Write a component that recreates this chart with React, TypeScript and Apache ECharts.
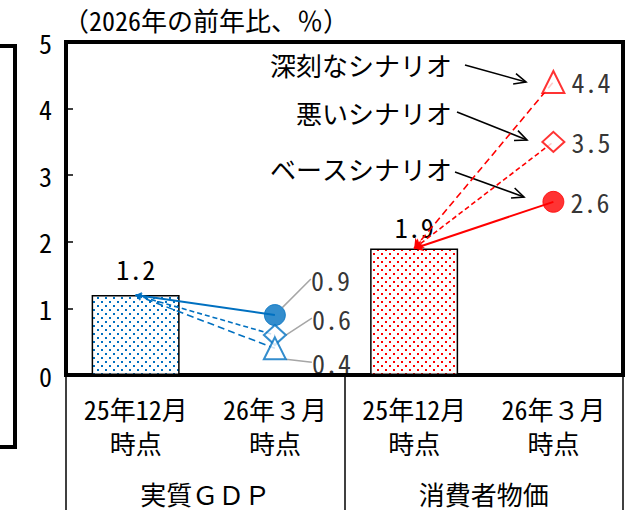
import React, { useEffect, useRef } from "react";
import * as echarts from "echarts";

// Axis categories and group headings
const categories = ["25年12月\n時点", "26年３月\n時点", "25年12月\n時点", "26年３月\n時点"];
const groups = ["実質ＧＤＰ", "消費者物価"];

// Scenario names (base / bad / severe)
const scenarios = ["ベースシナリオ", "悪いシナリオ", "深刻なシナリオ"];

// 2026 year-on-year forecasts, %
const gdpDec25 = 1.2;
const cpiDec25 = 1.9;
const gdpMar26 = [0.9, 0.6, 0.4];
const cpiMar26 = [2.6, 3.5, 4.4];

const FONT = "'Noto Sans Mono CJK JP', 'Noto Sans CJK JP', sans-serif";
const BLUE = "#0070C0";
const RED = "#FF0000";

// marker look per scenario
const markerSymbols = ["circle", "diamond", "triangle"];
const markerSizes: (number | number[])[] = [21, [22, 20], [22, 22]];
const lineTypes: (string | number[])[] = ["solid", [5, 3], [7, 4]];
// leader-line offsets for the GDP value labels
const gdpLabelShift = [
  [20, -36],
  [20, -17],
  [20, 14],
];

function dotPattern(color: string) {
  const c = document.createElement("canvas");
  c.width = 8;
  c.height = 8;
  const ctx = c.getContext("2d")!;
  ctx.fillStyle = "#fff";
  ctx.fillRect(0, 0, 8, 8);
  ctx.fillStyle = color;
  ctx.fillRect(1, 1, 2, 2);
  ctx.fillRect(5, 5, 2, 2);
  return { image: c, repeat: "repeat" } as any;
}

function arrow(x1: number, y1: number, x2: number, y2: number) {
  const ang = Math.atan2(y2 - y1, x2 - x1);
  const L = 13;
  const a = 0.42;
  const p1 = [x2 - L * Math.cos(ang - a), y2 - L * Math.sin(ang - a)];
  const p2 = [x2 - L * Math.cos(ang + a), y2 - L * Math.sin(ang + a)];
  return [
    { type: "line", shape: { x1, y1, x2, y2 }, style: { stroke: "#000", lineWidth: 1.6 } },
    {
      type: "polyline",
      shape: { points: [p1, [x2, y2], p2] },
      style: { stroke: "#000", lineWidth: 1.6, fill: null },
    },
  ];
}

function scenarioLines(
  fromX: number,
  fromY: number,
  toX: number,
  values: number[],
  color: string
) {
  return values.map((v, i) => ({
    type: "lines",
    coordinateSystem: "cartesian2d",
    xAxisIndex: 0,
    yAxisIndex: 0,
    symbol: ["arrow", "none"],
    symbolSize: color === RED ? 9 : 6,
    silent: true,
    lineStyle: { color, width: i === 0 ? 2 : 1.6, type: lineTypes[i], opacity: 1, curveness: 0 },
    data: [{ coords: [[fromX, fromY], [toX, v]] }],
    z: 3,
  }));
}

export default function App() {
  const ref = useRef<HTMLDivElement>(null);

  useEffect(() => {
    if (!ref.current) return;
    const chart = echarts.init(ref.current, null, { renderer: "svg" });

    const blueDots = dotPattern(BLUE);
    const redDots = dotPattern(RED);

    const markerItems = (values: number[], x: number, color: string) =>
      values.map((v, i) => ({
        value: [x, v],
        symbol: markerSymbols[i],
        symbolSize: markerSizes[i],
        itemStyle:
          i === 0
            ? { color, borderColor: color, borderWidth: 1 }
            : { color: "#fff", borderColor: color, borderWidth: 2 },
      }));

    const textStyle = { fontFamily: FONT, color: "#000", fontSize: 26 };

    const scenarioTexts = [
      { name: scenarios[2], y: 64, a: [465, 65, 526, 82] },
      { name: scenarios[1], y: 112, a: [457, 112, 527, 140] },
      { name: scenarios[0], y: 168, a: [455, 172, 524, 197] },
    ];

    const graphics: any[] = [
      // edge of the neighbouring panel
      {
        type: "polyline",
        shape: { points: [[0, 46], [15, 46], [15, 447], [0, 447]] },
        style: { stroke: "#000", lineWidth: 4, fill: null },
      },
    ];
    scenarioTexts.forEach((s) => {
      graphics.push({
        type: "text",
        x: 452,
        y: s.y,
        style: {
          text: s.name,
          align: "right",
          verticalAlign: "middle",
          font: `26px ${FONT}`,
          fill: "#000",
        },
      });
      graphics.push(...arrow(s.a[0], s.a[1], s.a[2], s.a[3]));
    });

    chart.setOption({
      animation: false,
      backgroundColor: "#fff",
      textStyle: { fontFamily: FONT },
      title: {
        text: "（2026年の前年比、％）",
        left: 58,
        top: 1,
        textStyle: { ...textStyle, fontWeight: "normal", fontSize: 26 },
      },
      grid: {
        left: 66,
        right: 3,
        top: 42,
        bottom: 135,
        show: true,
        borderColor: "#000",
        borderWidth: 4,
        backgroundColor: "transparent",
      },
      xAxis: [
        {
          type: "category",
          data: categories,
          axisLine: { lineStyle: { color: "#000", width: 4 } },
          axisTick: { show: false },
          axisLabel: { ...textStyle, lineHeight: 34, margin: 16, interval: 0 },
          splitLine: { show: false },
        },
        {
          type: "category",
          data: groups,
          position: "bottom",
          axisLine: { show: false },
          axisTick: { show: true, length: 135, lineStyle: { color: "#000", width: 1.5 } },
          axisLabel: { ...textStyle, margin: 105, interval: 0 },
          splitLine: { show: false },
        },
      ],
      yAxis: {
        type: "value",
        min: 0,
        max: 5,
        interval: 1,
        axisLine: { show: true, lineStyle: { color: "#000", width: 4 } },
        axisTick: { show: true, inside: true, length: 7, lineStyle: { color: "#000", width: 1.5 } },
        axisLabel: { ...textStyle, margin: 14 },
        splitLine: { show: false },
      },
      graphic: graphics,
      series: [
        {
          type: "bar",
          xAxisIndex: 0,
          barWidth: 88,
          data: [
            { value: gdpDec25, itemStyle: { color: blueDots }, label: { distance: 14 } },
            "-",
            { value: cpiDec25, itemStyle: { color: redDots }, label: { distance: 9 } },
            "-",
          ],
          itemStyle: { borderColor: "#000", borderWidth: 1.5 },
          label: {
            show: true,
            position: "top",
            ...textStyle,
            formatter: (p: any) => Number(p.value).toFixed(1),
          },
          z: 1,
        },
        ...scenarioLines(0, gdpDec25, 1, gdpMar26, BLUE),
        ...scenarioLines(2, cpiDec25, 3, cpiMar26, RED),
        {
          type: "scatter",
          xAxisIndex: 0,
          data: markerItems(gdpMar26, 1, BLUE),
          z: 5,
          label: {
            show: true,
            position: "right",
            ...textStyle,
            formatter: (p: any) => p.value[1].toFixed(1),
          },
          labelLayout: (p: any) => ({
            dx: gdpLabelShift[p.dataIndex][0],
            dy: gdpLabelShift[p.dataIndex][1],
          }),
          labelLine: { show: true, lineStyle: { color: "#a6a6a6", width: 1.5 } },
        },
        {
          type: "scatter",
          xAxisIndex: 0,
          data: markerItems(cpiMar26, 3, RED),
          z: 5,
          label: {
            show: true,
            position: "right",
            distance: 6,
            ...textStyle,
            formatter: (p: any) => p.value[1].toFixed(1),
          },
        },
      ],
    });

    return () => chart.dispose();
  }, []);

  return (
    <div
      ref={ref}
      style={{ position: "fixed", left: 0, top: 0, width: 626, height: 510, background: "#fff" }}
    />
  );
}
